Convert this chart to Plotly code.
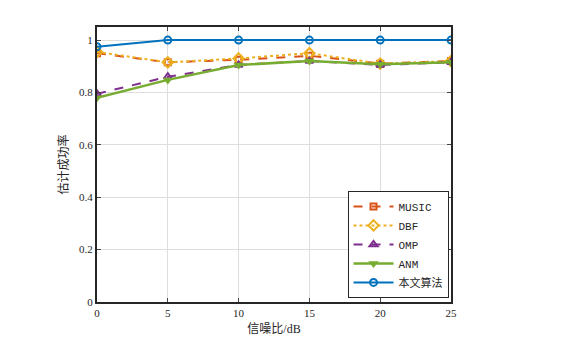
import plotly.graph_objects as go

snr = [0, 5, 10, 15, 20, 25]
music = [0.95, 0.915, 0.925, 0.94, 0.91, 0.92]
dbf = [0.955, 0.915, 0.93, 0.95, 0.91, 0.92]
omp = [0.795, 0.86, 0.905, 0.92, 0.905, 0.915]
anm = [0.78, 0.848, 0.905, 0.92, 0.908, 0.915]
ours = [0.975, 1.0, 1.0, 1.0, 1.0, 1.0]
y_ticks = [0, 0.2, 0.4, 0.6, 0.8, 1.0]
y_tick_text = ["0", "0.2", "0.4", "0.6", "0.8", "1"]

FONT = "Liberation Serif, Noto Sans CJK SC, serif"
LEGFONT = "Liberation Mono, Noto Sans CJK SC, monospace"

fig = go.Figure()
fig.add_trace(go.Scatter(x=snr, y=music, name="MUSIC", mode="lines+markers",
                         line=dict(color="#D95319", width=2, dash="dash"),
                         marker=dict(symbol="square-open", size=6, color="#D95319", line=dict(width=2))))
fig.add_trace(go.Scatter(x=snr, y=dbf, name="DBF", mode="lines+markers",
                         line=dict(color="#EDB120", width=2, dash="dot"),
                         marker=dict(symbol="diamond-open", size=8, color="#EDB120", line=dict(width=2))))
fig.add_trace(go.Scatter(x=snr, y=omp, name="OMP", mode="lines+markers",
                         line=dict(color="#7E2F8E", width=2, dash="dash"),
                         marker=dict(symbol="triangle-up-open", size=7, color="#7E2F8E", line=dict(width=2))))
fig.add_trace(go.Scatter(x=snr, y=anm, name="ANM", mode="lines+markers",
                         line=dict(color="#77AC30", width=2.5),
                         marker=dict(symbol="triangle-down", size=9, color="#77AC30")))
fig.add_trace(go.Scatter(x=snr, y=ours, name="本文算法", mode="lines+markers",
                         line=dict(color="#0072BD", width=2),
                         marker=dict(symbol="circle-open", size=7, color="#0072BD", line=dict(width=2))))

fig.update_layout(
    width=565, height=349,
    margin=dict(l=97, r=114, t=27, b=47),
    paper_bgcolor="white", plot_bgcolor="white",
    font=dict(family=FONT, size=11, color="#262626"),
    showlegend=True,
    legend=dict(x=0.993, y=0.015, xanchor="right", yanchor="bottom",
                bordercolor="#262626", borderwidth=1, bgcolor="white",
                font=dict(family=LEGFONT, size=11, color="#262626"),
                tracegroupgap=0, itemwidth=40),
)
fig.update_xaxes(range=[0, 25], tickvals=snr, ticks="inside", ticklen=4,
                 showline=True, linecolor="#262626", linewidth=2, mirror="ticks",
                 showgrid=True, gridcolor="#DEDEDE", gridwidth=1, zeroline=False,
                 title=dict(text="信噪比/dB", standoff=6, font=dict(size=12)),
                 tickfont=dict(size=11))
fig.update_yaxes(range=[0, 1.05], tickvals=y_ticks, ticktext=y_tick_text, ticks="inside", ticklen=4,
                 showline=True, linecolor="#262626", linewidth=2, mirror="ticks",
                 showgrid=True, gridcolor="#DEDEDE", gridwidth=1, zeroline=False,
                 title=dict(text="估计成功率", standoff=8, font=dict(size=12)),
                 tickfont=dict(size=11))

fig.write_html("out.html")
